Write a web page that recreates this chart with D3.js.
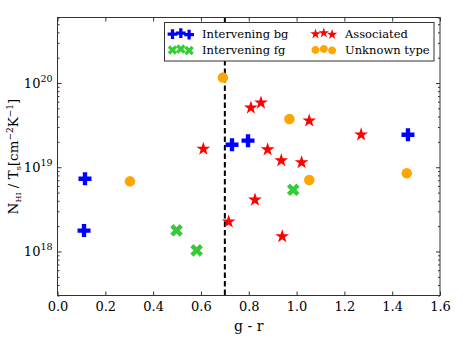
<!DOCTYPE html>
<html>
<head>
<meta charset="utf-8">
<script src="https://cdn.jsdelivr.net/npm/d3@7"></script>
<style>
  body { margin: 0; background: #fff; }
  svg { display: block; }
  svg text { font-family: "DejaVu Serif", serif; }
</style>
</head>
<body>
<div id="chart"></div>
<script>
// g - r colour vs N_HI / T_s, four source classes
const bgX = [0.115, 0.111, 0.730, 0.797, 1.466];
const bgY = [7.3e18, 1.77e18, 1.85e19, 2.07e19, 2.43e19];
const fgX = [0.498, 0.582, 0.986];
const fgY = [1.78e18, 1.03e18, 5.4e18];
const assocX = [0.610, 0.716, 0.809, 0.851, 1.053, 1.270, 0.879, 0.936, 1.021, 0.826, 0.940];
const assocY = [1.65e19, 2.26e18, 5.08e19, 5.83e19, 3.57e19, 2.44e19, 1.62e19, 1.2e19, 1.14e19, 4.1e18, 1.51e18];
const unkX = [0.303, 0.692, 0.970, 1.053, 1.461];
const unkY = [6.8e18, 1.16e20, 3.74e19, 7.06e18, 8.47e18];

const xTicks = [0, 0.2, 0.4, 0.6, 0.8, 1.0, 1.2, 1.4, 1.6];
const yTicks = [1e18, 1e19, 1e20];
const cutX = 0.7;

const series = [
  { name: "Intervening bg", xs: bgX, ys: bgY, color: "#0000ff", shape: "plus" },
  { name: "Intervening fg", xs: fgX, ys: fgY, color: "#32cd32", shape: "x" },
  { name: "Associated", xs: assocX, ys: assocY, color: "#ff0000", shape: "star" },
  { name: "Unknown type", xs: unkX, ys: unkY, color: "#ffa500", shape: "circle" }
];

const W = 463, H = 348;
const L = 57.5, R = 440, T = 17.5, B = 295.5;

const svg = d3.select('#chart').append('svg')
  .attr('width', W).attr('height', H);

const x = d3.scaleLinear().domain([0, 1.6]).range([L, R]);
const y = d3.scaleLog().domain([3e17, 6e20]).range([B, T]);

// marker paths, centred at 0,0, s = full width
function markerPath(shape, s) {
  const h = s / 2;
  if (shape === "plus") {
    const a = s / 6;
    return `M${-a},${-h}H${a}V${-a}H${h}V${a}H${a}V${h}H${-a}V${a}H${-h}V${-a}H${-a}Z`;
  }
  if (shape === "x") {
    const a = s / 6;
    const pts = [[-a,-h],[a,-h],[a,-a],[h,-a],[h,a],[a,a],[a,h],[-a,h],[-a,a],[-h,a],[-h,-a],[-a,-a]];
    const c = Math.SQRT1_2;
    return 'M' + pts.map(p => [(p[0] - p[1]) * c * 0.92, (p[0] + p[1]) * c * 0.92].join(',')).join('L') + 'Z';
  }
  if (shape === "star") {
    const pts = [];
    for (let i = 0; i < 10; i++) {
      const r = i % 2 === 0 ? h : h * 0.382;
      const ang = -Math.PI / 2 + i * Math.PI / 5;
      pts.push([r * Math.cos(ang), r * Math.sin(ang)]);
    }
    return 'M' + pts.map(p => p.join(',')).join('L') + 'Z';
  }
  return d3.arc()({ innerRadius: 0, outerRadius: h, startAngle: 0, endAngle: 2 * Math.PI });
}
const markerSize = { plus: 13, x: 14.5, star: 14.5, circle: 10.5 };

// dashed cut line
svg.append('line')
  .attr('x1', x(cutX)).attr('x2', x(cutX))
  .attr('y1', T).attr('y2', B)
  .attr('stroke', '#000')
  .attr('stroke-width', 2)
  .attr('stroke-dasharray', '5.5,3');

// points
series.forEach(s => {
  svg.append('g').selectAll('path')
    .data(s.xs.map((v, i) => [v, s.ys[i]]))
    .enter().append('path')
    .attr('d', markerPath(s.shape, markerSize[s.shape]))
    .attr('transform', d => `translate(${x(d[0])},${y(d[1])})`)
    .attr('fill', s.color);
});

// ticks (inward) on all four sides
const tickCol = '#333';
const xb = svg.append('g').attr('transform', `translate(0,${B})`)
  .call(d3.axisBottom(x).tickValues(xTicks).tickSize(-4).tickFormat(d3.format('.1f')).tickPadding(6));
const xt = svg.append('g').attr('transform', `translate(0,${T})`)
  .call(d3.axisTop(x).tickValues(xTicks).tickSize(-4).tickFormat(''));

const minor = [];
for (let e = 17; e <= 20; e++) for (let m = 2; m <= 9; m++) {
  const v = m * Math.pow(10, e);
  if (v >= 3e17 && v <= 6e20) minor.push(v);
}
const yl = svg.append('g').attr('transform', `translate(${L},0)`)
  .call(d3.axisLeft(y).tickValues(yTicks).tickSize(-4).tickFormat(''));
const yr = svg.append('g').attr('transform', `translate(${R},0)`)
  .call(d3.axisRight(y).tickValues(yTicks).tickSize(-4).tickFormat(''));
const ylm = svg.append('g').attr('transform', `translate(${L},0)`)
  .call(d3.axisLeft(y).tickValues(minor).tickSize(-2).tickFormat(''));
const yrm = svg.append('g').attr('transform', `translate(${R},0)`)
  .call(d3.axisRight(y).tickValues(minor).tickSize(-2).tickFormat(''));

[xb, xt, yl, yr, ylm, yrm].forEach(g => {
  g.attr('font-family', null);
  g.select('.domain').remove();
  g.selectAll('line').attr('stroke', tickCol);
});
xb.selectAll('text').attr('font-size', 13).attr('fill', '#000');

// y tick labels 10^n
yTicks.forEach(v => {
  const t = svg.append('text')
    .attr('x', L - 5).attr('y', y(v) + 4.5)
    .attr('text-anchor', 'end')
    .attr('font-size', 13);
  t.append('tspan').text('10');
  t.append('tspan').attr('font-size', 9.5).attr('dy', -6).text(Math.round(Math.log10(v)));
});

// frame
svg.append('rect')
  .attr('x', L).attr('y', T).attr('width', R - L).attr('height', B - T)
  .attr('fill', 'none').attr('stroke', tickCol).attr('stroke-width', 1);

// axis labels
svg.append('text')
  .attr('x', (L + R) / 2).attr('y', 331)
  .attr('text-anchor', 'middle').attr('font-size', 14)
  .text('g - r');

const ylab = svg.append('text')
  .attr('transform', `translate(18,${(T + B) / 2}) rotate(-90)`)
  .attr('text-anchor', 'middle').attr('font-size', 13.5);
ylab.append('tspan').text('N');
ylab.append('tspan').attr('font-size', 8).attr('dy', 3).text('HI');
ylab.append('tspan').attr('dy', -3).text(' / T');
ylab.append('tspan').attr('font-size', 8).attr('dy', 3).text('s');
ylab.append('tspan').attr('dy', -3).text('[cm');
ylab.append('tspan').attr('font-size', 9).attr('dy', -5).text('\u22122');
ylab.append('tspan').attr('dy', 5).text('K');
ylab.append('tspan').attr('font-size', 9).attr('dy', -5).text('\u22121');
ylab.append('tspan').attr('dy', 5).text(']');

// legend, two columns
const lg = svg.append('g');
lg.append('rect')
  .attr('x', 164.5).attr('y', 22.5).attr('width', 269.5).attr('height', 38.5)
  .attr('fill', '#fff').attr('stroke', tickCol).attr('stroke-width', 1);
const cols = [168, 311];
const rows = [33.5, 49.5];
const offs = [0.5, -0.5, 1];
series.forEach((s, i) => {
  const cx = cols[Math.floor(i / 2)], cy = rows[i % 2];
  const sz = markerSize[s.shape] * 0.75;
  [0, 1, 2].forEach(k => {
    lg.append('path')
      .attr('d', markerPath(s.shape, sz))
      .attr('transform', `translate(${cx + 4.5 + k * 8.3},${cy + offs[k]})`)
      .attr('fill', s.color);
  });
  lg.append('text')
    .attr('x', cx + 34).attr('y', cy + 4)
    .attr('font-size', 11.5)
    .text(s.name);
});
</script>
</body>
</html>
